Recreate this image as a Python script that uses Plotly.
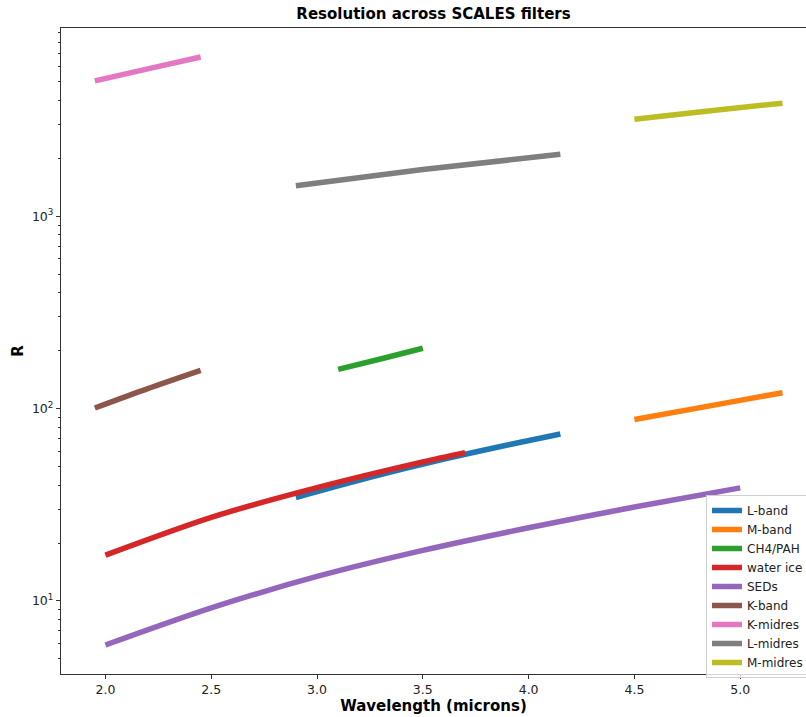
import plotly.graph_objects as go

# Wavelength (microns) and spectral resolution R for each SCALES filter
lband_wl = [2.9, 3.25, 3.6, 3.9, 4.15]
lband_r = [34.5, 43.9, 54.6, 64.7, 73.8]

mband_wl = [4.5, 4.85, 5.2]
mband_r = [87.7, 103.0, 121.0]

ch4_wl = [3.1, 3.3, 3.5]
ch4_r = [160.0, 181.0, 206.0]

ice_wl = [2.0, 2.5, 3.0, 3.5, 3.7]
ice_r = [17.3, 27.2, 38.8, 52.8, 59.0]

sed_wl = [2.0, 2.5, 3.0, 3.5, 4.0, 4.5, 5.0]
sed_r = [5.9, 9.2, 13.4, 18.3, 24.0, 30.8, 38.7]

kband_wl = [1.95, 2.2, 2.45]
kband_r = [100.7, 127.0, 158.0]

kmid_wl = [1.95, 2.2, 2.45]
kmid_r = [5060.0, 5840.0, 6730.0]

lmid_wl = [2.9, 3.5, 4.15]
lmid_r = [1443.0, 1750.0, 2100.0]

mmid_wl = [4.5, 4.85, 5.2]
mmid_r = [3193.0, 3530.0, 3874.0]

series = [
    ("L-band", lband_wl, lband_r, "#1f77b4"),
    ("M-band", mband_wl, mband_r, "#ff7f0e"),
    ("CH4/PAH", ch4_wl, ch4_r, "#2ca02c"),
    ("water ice", ice_wl, ice_r, "#d62728"),
    ("SEDs", sed_wl, sed_r, "#9467bd"),
    ("K-band", kband_wl, kband_r, "#8c564b"),
    ("K-midres", kmid_wl, kmid_r, "#e377c2"),
    ("L-midres", lmid_wl, lmid_r, "#7f7f7f"),
    ("M-midres", mmid_wl, mmid_r, "#bcbd22"),
]

x_ticks = [2.0, 2.5, 3.0, 3.5, 4.0, 4.5, 5.0]
y_ticks = [10, 100, 1000]
y_ticktext = ["10<sup>1</sup>", "10<sup>2</sup>", "10<sup>3</sup>"]
y_minor = [m * d for d in (1, 10, 100, 1000) for m in range(2, 10)]

fig = go.Figure()
for name, wl, r, color in series:
    fig.add_trace(go.Scatter(
        x=wl, y=r, mode="lines", name=name,
        line=dict(color=color, width=5.5, shape="spline", smoothing=0.8),
    ))

font_family = "DejaVu Sans"
fig.update_layout(
    width=806, height=717,
    margin=dict(l=61, r=0, t=28, b=43, autoexpand=False),
    plot_bgcolor="white", paper_bgcolor="white",
    font=dict(family=font_family, size=12.5, color="#222"),
    title=dict(text="<b>Resolution across SCALES filters</b>",
               x=0.5, xref="paper", xanchor="center",
               y=1 - 14 / 717, yanchor="middle",
               font=dict(size=15, color="black")),
    showlegend=True,
    legend=dict(
        x=(706 - 61) / 745, y=(674 - 495) / 646,
        xanchor="left", yanchor="top",
        bgcolor="rgba(255,255,255,0.8)",
        bordercolor="#d0d0d0", borderwidth=1,
        font=dict(size=12, color="#222"),
        tracegroupgap=0,
    ),
)
fig.update_xaxes(
    range=[1.79, 5.311],
    tickvals=x_ticks, ticktext=[f"{v:.1f}" for v in x_ticks],
    ticks="outside", ticklen=4, tickcolor="#333",
    showline=True, linecolor="#333", linewidth=1.2, mirror=True,
    showgrid=False, zeroline=False,
    title=dict(text="<b>Wavelength (microns)</b>", font=dict(size=15, color="black"),
               standoff=4),
)
fig.update_yaxes(
    type="log", range=[0.620, 3.979],
    tickvals=y_ticks, ticktext=y_ticktext,
    ticks="outside", ticklen=4, tickcolor="#333",
    minor=dict(tickvals=y_minor, ticks="outside", ticklen=2, tickcolor="#333"),
    showline=True, linecolor="#333", linewidth=1.2, mirror=False,
    showgrid=False, zeroline=False,
    title=dict(text="<b>R</b>", font=dict(size=15, color="black"), standoff=4),
)

fig.write_html("out.html")
